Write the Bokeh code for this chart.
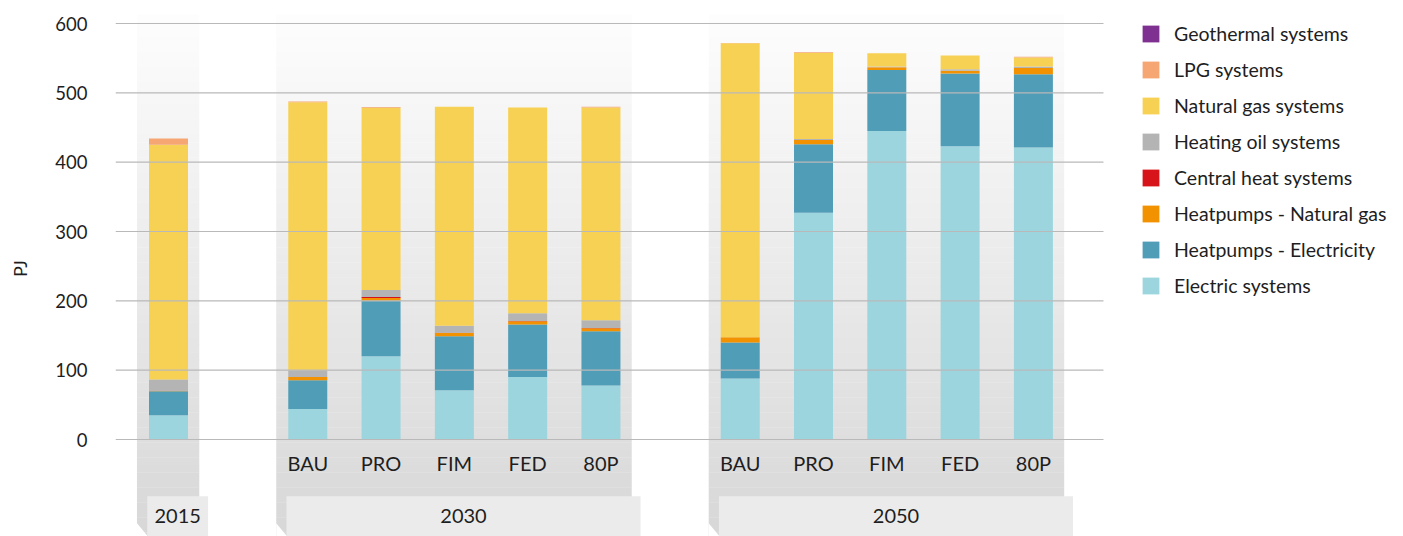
import numpy as np
from bokeh.plotting import figure
from bokeh.models import ColumnDataSource, Range1d, FixedTicker, Legend, LegendItem
from bokeh.core.properties import value
from bokeh.embed import file_html
from bokeh.resources import INLINE

# ---------------- data ----------------
years = ["2015", "2030", "2050"]
scenarios = ["BAU", "PRO", "FIM", "FED", "80P"]
group_members = [[""], scenarios, scenarios]

series_names = ["Electric systems", "Heatpumps - Electricity", "Heatpumps - Natural gas",
                "Central heat systems", "Heating oil systems", "Natural gas systems",
                "LPG systems", "Geothermal systems"]
series_colors = ["#9CD5DE", "#509DB8", "#F39200", "#D7141A", "#B4B4B4", "#F7D154",
                 "#F5A673", "#7E3190"]

electric = [35, 44, 120, 71, 90, 78, 88, 327, 445, 423, 421]
hp_elec = [34.5, 41.5, 80, 78, 76, 78, 52, 99, 88, 105, 106]
hp_gas = [0.5, 4.5, 4, 4.5, 4.5, 4.5, 7.5, 6, 4, 4, 9]
central = [0.5, 0, 1.5, 0.5, 0.5, 0.5, 0, 0, 0, 0, 0]
oil = [16, 10, 10, 10, 11, 11, 0, 1.5, 1, 2, 2]
gas = [338.5, 386.5, 263, 316, 297, 307, 424, 124, 19, 20, 13]
lpg = [9, 1, 1, 0, 0, 1, 0.5, 1, 0, 0, 1]
geo = [0, 0, 0, 0, 0, 0, 0, 0, 0, 0, 0]

y_ticks = [0, 100, 200, 300, 400, 500, 600]

# ---------------- layout helpers ----------------
FONT = "Lato"
TXT = "#1e1e1e"
GROUP_GAP = 1.9
X0, X_GRID_END, X1 = -0.723, 12.756, 16.74

xs, labels, group_spans = [], [], []
pos = 0.0
for gi, (yr, members) in enumerate(zip(years, group_members)):
    if gi > 0:
        pos += GROUP_GAP - 1
    first = pos
    for m in members:
        xs.append(pos)
        labels.append(m)
        pos += 1
    group_spans.append((yr, first, pos - 1))

src = ColumnDataSource(dict(x=xs, electric=electric, hp_elec=hp_elec, hp_gas=hp_gas,
                            central=central, oil=oil, gas=gas, lpg=lpg, geo=geo))
keys = ["electric", "hp_elec", "hp_gas", "central", "oil", "gas", "lpg", "geo"]

p = figure(width=1395, height=536, output_backend="svg", toolbar_location=None,
           x_range=Range1d(X0, X1), y_range=Range1d(-139.9, 633.2),
           min_border_left=115, min_border_right=0, min_border_top=0, min_border_bottom=0)
p.outline_line_color = None
p.background_fill_color = "white"
p.border_fill_color = "white"
p.xaxis.visible = False
p.xgrid.visible = False
p.ygrid.visible = False

# background panels with a vertical gradient
N = 70
top_v, bot_v = 613.0, -145.0
edges = np.linspace(top_v, bot_v, N + 1)
for yr, a, b in group_spans:
    left, right = a - 0.43, b + 0.42
    tops, bots, cols = [], [], []
    for k in range(N):
        t = k / (N - 1)
        g = int(round(253 - (253 - 215) * t))
        tops.append(edges[k]); bots.append(edges[k + 1] - 0.5)
        cols.append("#%02x%02x%02x" % (g, g, g))
    p.quad(left=[left] * N, right=[right] * N, top=tops, bottom=bots,
           fill_color=cols, line_color=None)
    # bevel at bottom-left
    p.patch([left, left + 0.15, left], [-120.7, -139.9, -139.9], fill_color="white", line_color=None)
    # front label box
    p.quad(left=[a - 0.29], right=[b + 0.54], top=[-81.8], bottom=[-150],
           fill_color="#ebebeb", line_color=None)
    p.text(x=[(a - 0.29 + b + 0.54) / 2], y=[-110], text=[yr], text_align="center",
           text_baseline="middle", text_font=value(FONT), text_font_size="20px", text_color=TXT)

# stacked bars
renderers = p.vbar_stack(keys, x="x", width=0.532, source=src, color=series_colors,
                         line_color=None)

# horizontal grid lines (drawn over the bars, as in the original)
p.segment(x0=[X0] * len(y_ticks), x1=[X_GRID_END] * len(y_ticks), y0=y_ticks, y1=y_ticks,
          line_color="#b9b9b9", line_width=1.2)

# scenario labels
lab_src = ColumnDataSource(dict(x=xs, y=[-34] * len(xs), t=labels))
p.text(x="x", y="y", text="t", source=lab_src, text_align="center", text_baseline="middle",
       text_font=value(FONT), text_font_size="20px", text_color=TXT)

# y axis
p.yaxis.ticker = FixedTicker(ticks=y_ticks)
p.yaxis.axis_line_color = None
p.yaxis.major_tick_line_color = None
p.yaxis.minor_tick_line_color = None
p.yaxis.major_label_text_font = FONT
p.yaxis.major_label_text_font_size = "18.5px"
p.yaxis.major_label_text_color = TXT
p.yaxis.major_label_standoff = 22
p.yaxis.axis_label = "PJ"
p.yaxis.axis_label_text_font = FONT
p.yaxis.axis_label_text_font_size = "18px"
p.yaxis.axis_label_text_font_style = "normal"
p.yaxis.axis_label_text_color = TXT
p.yaxis.axis_label_standoff = 21

# legend (top item = last stacked series)
items = [LegendItem(label=series_names[i], renderers=[renderers[i]])
         for i in reversed(range(len(keys)))]
legend = Legend(items=items, location=(1025, 239), orientation="vertical",
                glyph_width=21, glyph_height=21, label_height=21, spacing=13,
                label_standoff=13, padding=0, margin=0,
                label_text_font=FONT, label_text_font_size="19.5px", label_text_color=TXT,
                border_line_color=None, background_fill_alpha=0)
p.add_layout(legend)

open("out.html", "w").write(file_html(p, INLINE))
